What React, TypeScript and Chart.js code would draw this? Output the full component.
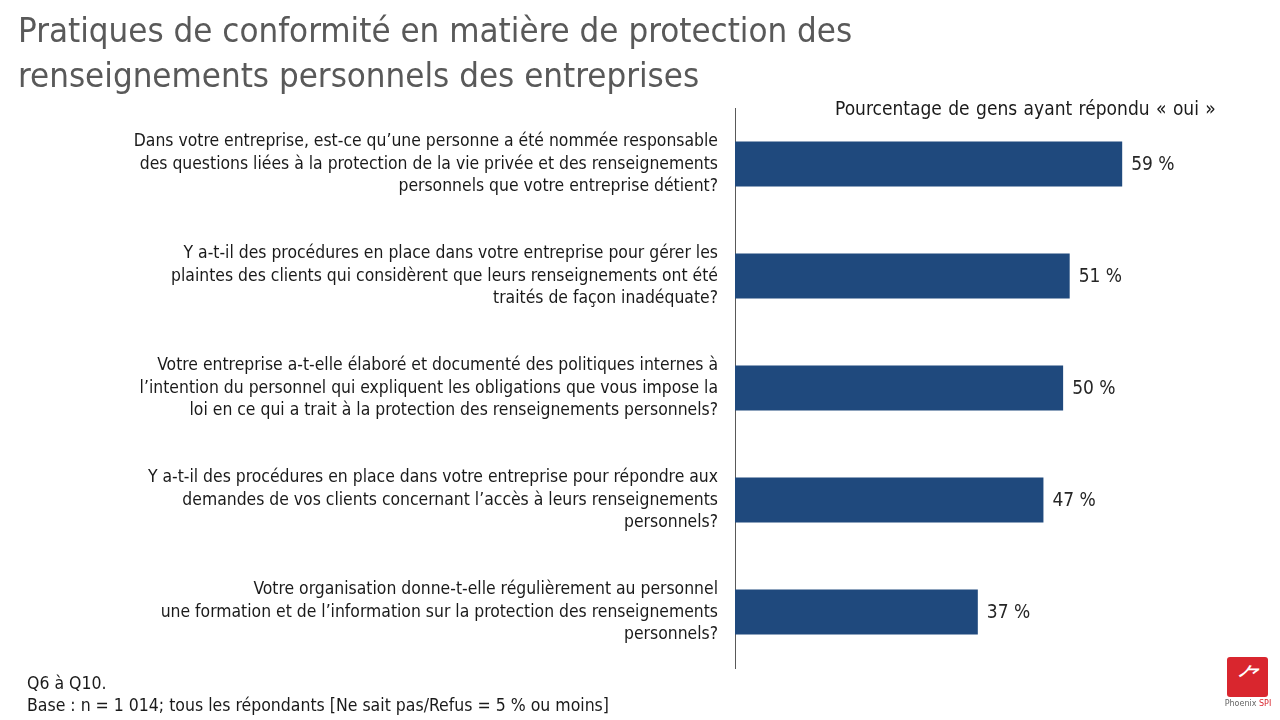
import React, { useEffect, useRef } from "react";
import { Chart, registerables } from "chart.js";

Chart.register(...registerables);

const titleLines = [
  "Pratiques de conformité en matière de protection des",
  "renseignements personnels des entreprises",
];

const categories: string[][] = [
  [
    "Dans votre entreprise, est-ce qu’une personne a été nommée responsable",
    "des questions liées à la protection de la vie privée et des renseignements",
    "personnels que votre entreprise détient?",
  ],
  [
    "Y a-t-il des procédures en place dans votre entreprise pour gérer les",
    "plaintes des clients qui considèrent que leurs renseignements ont été",
    "traités de façon inadéquate?",
  ],
  [
    "Votre entreprise a-t-elle élaboré et documenté des politiques internes à",
    "l’intention du personnel qui expliquent les obligations que vous impose la",
    "loi en ce qui a trait à la protection des renseignements personnels?",
  ],
  [
    "Y a-t-il des procédures en place dans votre entreprise pour répondre aux",
    "demandes de vos clients concernant l’accès à leurs renseignements",
    "personnels?",
  ],
  [
    "Votre organisation donne-t-elle régulièrement au personnel",
    "une formation et de l’information sur la protection des renseignements",
    "personnels?",
  ],
];

const yesValues = [59, 51, 50, 47, 37];

const headerText = "Pourcentage de gens ayant répondu « oui »";
const footerLines = [
  "Q6 à Q10.",
  "Base : n = 1 014; tous les répondants [Ne sait pas/Refus = 5 % ou moins]",
];

const FONT = "'Liberation Sans Narrow', 'DejaVu Sans Condensed', 'Roboto', sans-serif";

const valueLabelPlugin = {
  id: "valueLabels",
  afterDatasetsDraw(chart: any) {
    const ctx = chart.ctx;
    const meta = chart.getDatasetMeta(0);
    ctx.save();
    ctx.font = `19px ${FONT}`;
    ctx.fillStyle = "#262626";
    ctx.textAlign = "left";
    ctx.textBaseline = "middle";
    meta.data.forEach((bar: any, i: number) => {
      ctx.fillText(`${yesValues[i]} %`, bar.x + 9, bar.y + 1);
    });
    ctx.restore();
  },
};

export default function App() {
  const canvasRef = useRef<HTMLCanvasElement | null>(null);

  useEffect(() => {
    document.body.style.margin = "0";
    const canvas = canvasRef.current;
    if (!canvas) return;
    const chart = new Chart(canvas, {
      type: "bar",
      data: {
        labels: categories,
        datasets: [
          {
            data: yesValues,
            backgroundColor: "#1F497D",
            borderWidth: 0,
            barPercentage: 0.4,
            categoryPercentage: 1,
          },
        ],
      },
      options: {
        indexAxis: "y",
        animation: false,
        responsive: false,
        maintainAspectRatio: false,
        layout: { padding: { top: 108, bottom: 52, right: 20, left: 0 } },
        plugins: {
          legend: { display: false },
          tooltip: { enabled: false },
          title: { display: false },
        },
        scales: {
          x: { display: false, min: 0, max: 80 },
          y: {
            afterFit: (scale: any) => {
              scale.width = 735;
            },
            grid: { display: false, drawTicks: false },
            border: { display: true, color: "#595959", width: 1 },
            ticks: {
              crossAlign: "near",
              padding: 17,
              color: "#1a1a1a",
              font: { family: FONT, size: 17.4, lineHeight: 1.27 },
              autoSkip: false,
            },
          },
        },
      },
      plugins: [valueLabelPlugin],
    });
    return () => chart.destroy();
  }, []);

  return (
    <div
      style={{
        position: "fixed",
        left: 0,
        top: 0,
        width: 1280,
        height: 720,
        background: "#ffffff",
        overflow: "hidden",
        fontFamily: FONT,
      }}
    >
      <canvas ref={canvasRef} width={1280} height={720} style={{ position: "absolute", left: 0, top: 0 }} />
      <div
        style={{
          position: "absolute",
          left: 18,
          top: 8,
          fontSize: 34.6,
          lineHeight: "45px",
          color: "#595959",
          whiteSpace: "nowrap",
        }}
      >
        {titleLines.map((l, i) => (
          <div key={i}>{l}</div>
        ))}
      </div>
      <div
        style={{
          position: "absolute",
          left: 835,
          top: 96,
          fontSize: 19,
          lineHeight: "24px",
          color: "#1a1a1a",
          whiteSpace: "nowrap",
          wordSpacing: 1,
        }}
      >
        {headerText}
      </div>
      <div
        style={{
          position: "absolute",
          left: 27,
          top: 672,
          fontSize: 17.5,
          lineHeight: "22px",
          color: "#1a1a1a",
          whiteSpace: "nowrap",
        }}
      >
        {footerLines.map((l, i) => (
          <div key={i}>{l}</div>
        ))}
      </div>
      <div
        style={{
          position: "absolute",
          left: 1227,
          top: 657,
          width: 41,
          height: 40,
          background: "#D9262E",
          borderRadius: 3,
          color: "#ffffff",
          fontSize: 26,
          lineHeight: "40px",
          textAlign: "center",
          fontStyle: "italic",
        }}
      >
        ⺈
      </div>
      <div
        style={{
          position: "absolute",
          left: 1222,
          top: 699,
          width: 52,
          fontSize: 8,
          lineHeight: "10px",
          textAlign: "center",
          color: "#666666",
          fontFamily: "'DejaVu Sans', sans-serif",
          whiteSpace: "nowrap",
        }}
      >
        Phoenix <span style={{ color: "#D9262E" }}>SPI</span>
      </div>
    </div>
  );
}
